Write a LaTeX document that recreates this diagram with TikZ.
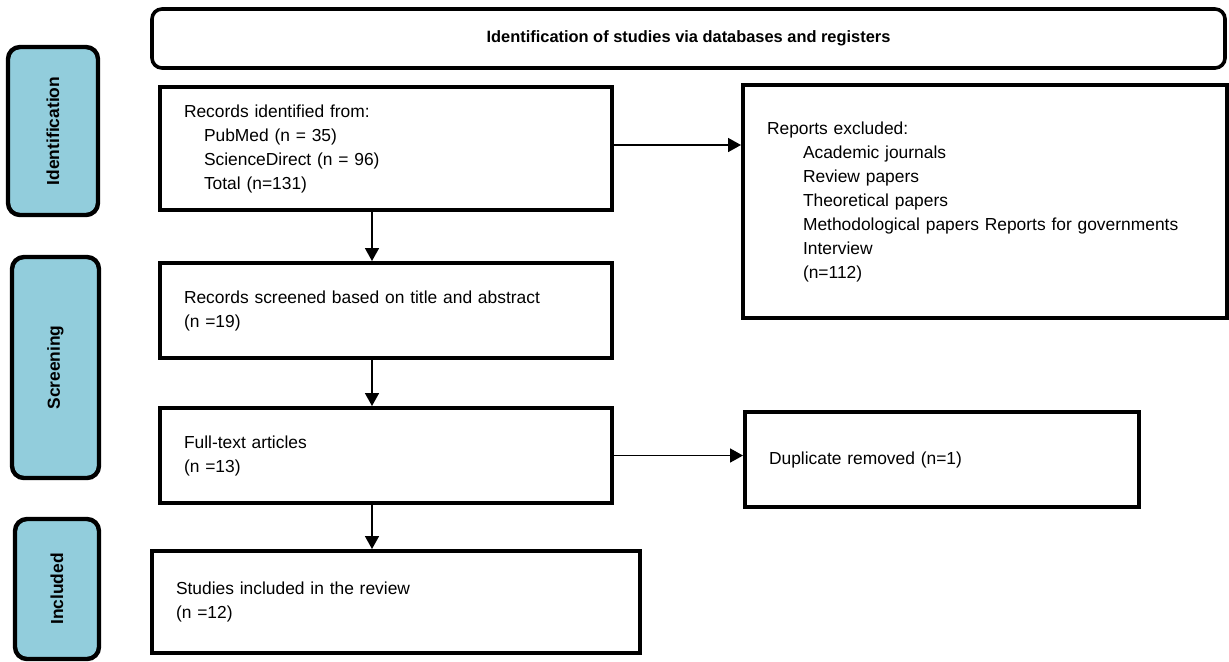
\documentclass[tikz,border=0pt]{standalone}
\usepackage{fontspec}
\setmainfont{Liberation Sans}
\usetikzlibrary{arrows.meta}
\definecolor{stagecolor}{HTML}{92CDDC}
\tikzset{
  box/.style={draw, line width=2pt, rectangle, align=left, inner xsep=12pt, font=\fontsize{8.7}{12}\selectfont},
  headbox/.style={draw, line width=1.8pt, rounded corners=5pt, font=\fontsize{8.2}{10}\selectfont\bfseries},
  stagebox/.style={draw, line width=2.2pt, fill=stagecolor, rounded corners=6pt, rotate=90, font=\fontsize{8.7}{10}\selectfont\bfseries},
  flow/.style={line width=0.8pt, -{Triangle[length=6.5pt,width=7pt]}},
}
\begin{document}
\begin{tikzpicture}[x=0.5pt, y=-0.5pt]
\useasboundingbox (0,0) rectangle (1229,661);
% header
\node[headbox, minimum width=536.5pt, minimum height=29.5pt] (head) at (688.5,38.5) {Identification of studies via databases and registers};
% stage labels on the left
\node[stagebox, minimum width=84pt, minimum height=45pt] (idlab) at (53,131) {Identification};
\node[stagebox, minimum width=110.5pt, minimum height=43.5pt] (scrlab) at (55.5,367.5) {Screening};
\node[stagebox, minimum width=70pt, minimum height=42pt] (inclab) at (57,589) {Included};
% main column
\node[box, minimum width=226pt, minimum height=61.5pt, text width=202pt] (recid) at (386,148.5) {Records identified from:\\
\hspace*{10pt}PubMed (n = 35)\\
\hspace*{10pt}ScienceDirect (n = 96)\\
\hspace*{10pt}Total (n=131)};
\node[box, minimum width=226pt, minimum height=47.5pt, text width=202pt] (scr) at (386,310.5) {Records screened based on title and abstract\\(n =19)};
\node[box, minimum width=226pt, minimum height=47.5pt, text width=202pt] (full) at (386,455.5) {Full-text articles\\(n =13)};
\node[box, minimum width=244pt, minimum height=51pt, text width=220pt] (incl) at (396,602) {Studies included in the review\\(n =12)};
% side column
\node[box, minimum width=242pt, minimum height=116.5pt, text width=218pt] (excl) at (985,201.5) {Reports excluded:\\
\hspace*{18pt}Academic journals\\
\hspace*{18pt}Review papers\\
\hspace*{18pt}Theoretical papers\\
\hspace*{18pt}Methodological papers Reports for governments\\
\hspace*{18pt}Interview\\
\hspace*{18pt}(n=112)};
\node[box, minimum width=197pt, minimum height=47.5pt, text width=173pt] (dup) at (942,459.5) {Duplicate removed (n=1)};
% arrows
\foreach \a/\b in {recid/scr, scr/full, full/incl}
  \draw[flow] ([xshift=-7pt]\a.south) -- ([xshift=-7pt]\a.south |- \b.north);
\draw[flow] ([yshift=1.75pt]recid.east) -- ([yshift=1.75pt]recid.east -| excl.west);
\draw[flow] (full.east) -- (full.east -| dup.west);
\end{tikzpicture}
\end{document}
